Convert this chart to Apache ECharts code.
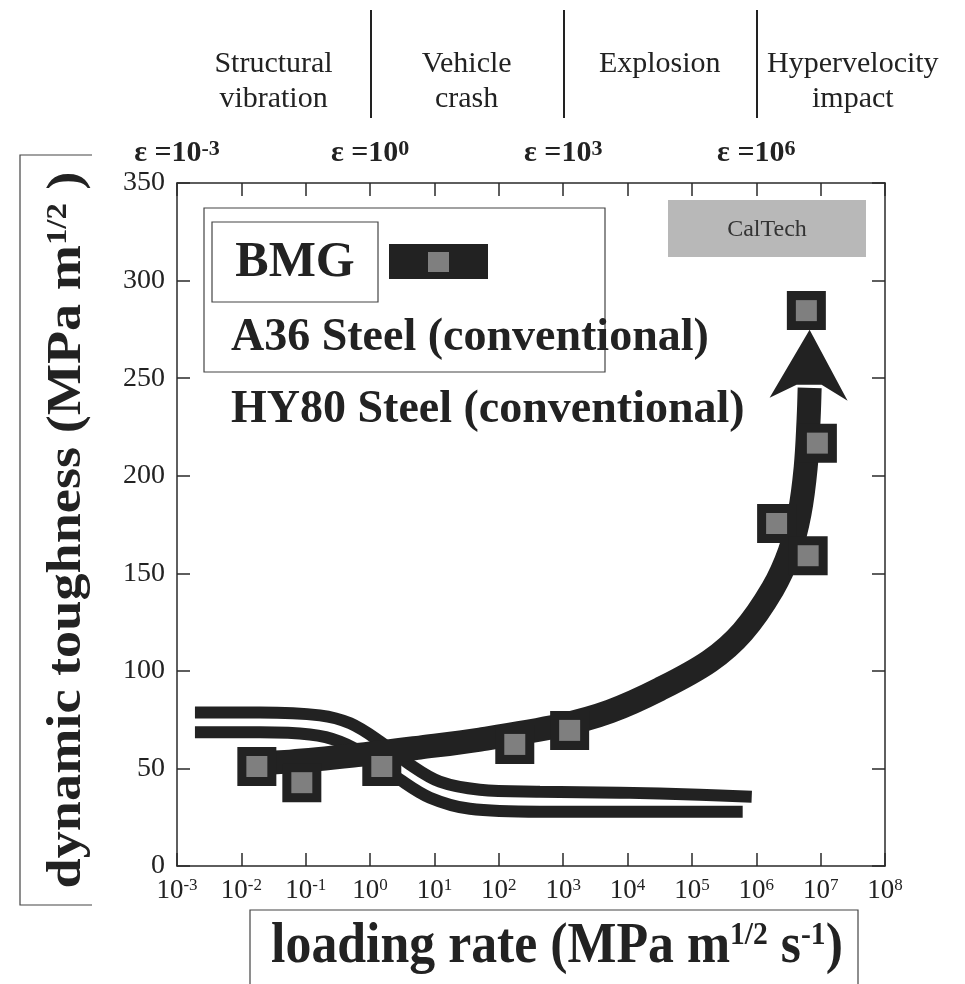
<!DOCTYPE html>
<html>
<head>
<meta charset="utf-8">
<script src="https://cdn.jsdelivr.net/npm/echarts@6/dist/echarts.min.js"></script>
<style>html,body{margin:0;background:#fff}#chart{width:965px;height:984px}</style>
</head>
<body>
<div id="chart"></div>
<script>
const serif = '"Liberation Serif", "Times New Roman", serif'
const ink = '#222'

// loading rate (MPa m^1/2 s^-1) against dynamic toughness (MPa m^1/2)
const bmgCurveX = [0.0095, 0.057, 0.70, 5.9, 51, 885, 5300, 31600, 1.89e5, 6.15e5, 1.8e6, 3.3e6, 4.7e6, 5.85e6, 6.5e6, 6.75e6]
const bmgCurveY = [52.5, 53.5, 57, 60.7, 64.8, 72, 79.2, 90.6, 105, 120, 142, 161, 180.6, 204, 229, 245]
const bmgPointsX = [0.0174, 0.087, 1.52, 177, 1260, 2.07e6, 6.4e6, 8.9e6, 6.0e6]
const bmgPointsY = [51, 42.7, 51, 62.3, 69.5, 175.5, 159, 216.7, 284.6]
const arrowTip = [6.5e6, 256.6]
const hy80X = [0.0019, 0.0195, 0.166, 0.49, 1.42, 4.15, 12.1, 50.7, 434, 7570, 1.32e5, 8.5e5]
const hy80Y = [78.7, 78.7, 77.2, 73.1, 63.8, 52, 43.2, 39.1, 38.1, 37.6, 36.5, 35.5]
const a36X = [0.0019, 0.0195, 0.116, 0.34, 1.0, 2.9, 8.5, 35.5, 434, 7570, 1.32e5, 6.15e5]
const a36Y = [68.5, 68.5, 67.4, 63.8, 55.6, 44.3, 35, 29.3, 27.8, 27.8, 27.8, 27.8]

const regimeNames = ['Structural\nvibration', 'Vehicle\ncrash', 'Explosion', 'Hypervelocity\nimpact']
const regimeBounds = [1e-3, 1, 1e3, 1e6, 1e9]
const strainExps = [-3, 0, 3, 6]

const zip = (xs, ys) => xs.map((x, i) => [x, ys[i]])
const expOf = v => Math.round(Math.log10(v))

const chart = echarts.init(document.getElementById('chart'))

const frame = () => ({ show: true, onZero: false, lineStyle: { color: '#2a2a2a', width: 1.5 } })
const tick = () => ({ show: true, inside: true, interval: 0, length: 13, lineStyle: { color: '#2a2a2a', width: 1.5 } })

const option = {
  animation: false,
  backgroundColor: '#fff',
  grid: { left: 177, right: 80, top: 183, bottom: 118 },
  xAxis: [{
    type: 'log', logBase: 10, min: 0.001, max: 1e8, interval: 1,
    axisLine: frame(), axisTick: tick(), splitLine: { show: false },
    axisLabel: {
      margin: 11,
      formatter: v => '{b|10}{s|' + expOf(v) + '}',
      rich: {
        b: { fontFamily: serif, fontSize: 27, color: ink },
        s: { fontFamily: serif, fontSize: 17, color: ink, verticalAlign: 'top' }
      }
    }
  }, {
    type: 'log', logBase: 10, min: 0.001, max: 1e8, interval: 1, position: 'top',
    axisLine: frame(), axisTick: tick(), splitLine: { show: false },
    axisLabel: {
      margin: 15,
      formatter: v => strainExps.includes(expOf(v)) ? '{e|ε =10}{s|' + expOf(v) + '}' : '',
      rich: {
        e: { fontFamily: serif, fontSize: 30, fontWeight: 'bold', color: ink },
        s: { fontFamily: serif, fontSize: 22, fontWeight: 'bold', color: ink, verticalAlign: 'top' }
      }
    }
  }],
  yAxis: [{
    type: 'value', min: 0, max: 350, interval: 50,
    axisLine: frame(), axisTick: tick(), splitLine: { show: false },
    axisLabel: { margin: 12, fontFamily: serif, fontSize: 28, color: ink }
  }, {
    type: 'value', min: 0, max: 350, interval: 50, position: 'right',
    axisLine: frame(), axisTick: tick(), splitLine: { show: false },
    axisLabel: { show: false }
  }],
  series: [
    { name: 'HY80 Steel', type: 'line', data: zip(hy80X, hy80Y), smooth: 0.35, showSymbol: false, z: 2,
      lineStyle: { color: ink, width: 12 } },
    { name: 'A36 Steel', type: 'line', data: zip(a36X, a36Y), smooth: 0.35, showSymbol: false, z: 2,
      lineStyle: { color: ink, width: 12 } },
    { name: 'BMG curve', type: 'line', data: zip(bmgCurveX, bmgCurveY), smooth: 0.35, showSymbol: false, z: 3,
      lineStyle: { color: ink, width: 24 } },
    { name: 'arrow', type: 'scatter', data: [arrowTip], z: 4,
      symbol: 'path://M40,0 L78,71 L52,55 L27,55 L0,68 Z', symbolSize: [78, 71],
      itemStyle: { color: ink, opacity: 1 } },
    { name: 'BMG', type: 'scatter', data: zip(bmgPointsX, bmgPointsY), symbol: 'rect', symbolSize: 39, z: 5,
      itemStyle: { color: ink, opacity: 1 } },
    { name: 'BMG fill', type: 'scatter', data: zip(bmgPointsX, bmgPointsY), symbol: 'rect', symbolSize: 21, z: 6,
      itemStyle: { color: '#7f7f7f', opacity: 1 } }
  ]
}

chart.setOption(option)

const boxLine = { fill: 'none', stroke: '#444', lineWidth: 1.2 }
const graphics = [
  { type: 'rect', shape: { x: 204, y: 208, width: 401, height: 164 }, style: boxLine },
  { type: 'rect', shape: { x: 212, y: 222, width: 166, height: 80 }, style: boxLine },
  { type: 'text', x: 295, y: 263, style: { text: 'BMG', font: 'bold 50px ' + serif, fill: ink, align: 'center', verticalAlign: 'middle' } },
  { type: 'rect', shape: { x: 389, y: 244, width: 99, height: 35 }, style: { fill: ink } },
  { type: 'rect', shape: { x: 428, y: 252, width: 21, height: 20 }, style: { fill: '#7f7f7f' } },
  { type: 'text', x: 231, y: 338, style: { text: 'A36 Steel (conventional)', font: 'bold 46px ' + serif, fill: ink, verticalAlign: 'middle' } },
  { type: 'text', x: 231, y: 410, style: { text: 'HY80 Steel (conventional)', font: 'bold 46px ' + serif, fill: ink, verticalAlign: 'middle' } },
  { type: 'rect', shape: { x: 668, y: 200, width: 198, height: 57 }, style: { fill: '#b8b8b8' } },
  { type: 'text', x: 767, y: 230, style: { text: 'CalTech', font: '24px ' + serif, fill: '#333', align: 'center', verticalAlign: 'middle' } },
  { type: 'polyline', shape: { points: [[92, 155], [20, 155], [20, 905], [92, 905]] }, style: boxLine },
  { type: 'text', x: 68, y: 530, rotation: Math.PI / 2, scaleX: 1.13,
    style: {
      text: '{t|dynamic toughness (MPa m}{s|1/2}{t| )}', fill: ink, align: 'center', verticalAlign: 'middle',
      rich: {
        t: { fontFamily: serif, fontWeight: 'bold', fontSize: 48, fill: ink },
        s: { fontFamily: serif, fontWeight: 'bold', fontSize: 29, fill: ink, verticalAlign: 'top' }
      }
    } },
  { type: 'polyline', shape: { points: [[250, 984], [250, 910], [858, 910], [858, 984]] }, style: boxLine },
  { type: 'text', x: 557, y: 948, scaleX: 0.925,
    style: {
      text: '{t|loading rate (MPa m}{s|1/2}{t| s}{s|-1}{t|)}', fill: ink, align: 'center', verticalAlign: 'middle',
      rich: {
        t: { fontFamily: serif, fontWeight: 'bold', fontSize: 56, fill: ink },
        s: { fontFamily: serif, fontWeight: 'bold', fontSize: 32, fill: ink, verticalAlign: 'top' }
      }
    } }
]

// regime dividers and names along the top, placed on the loading-rate scale
const px = v => chart.convertToPixel({ xAxisIndex: 0 }, v)
regimeBounds.slice(1, 4).forEach(b => {
  const x = Math.round(px(b)) + 1
  graphics.push({ type: 'line', shape: { x1: x, y1: 10, x2: x, y2: 118 }, style: { stroke: ink, lineWidth: 2 } })
})
regimeNames.forEach((name, i) => {
  const mid = Math.sqrt(regimeBounds[i] * regimeBounds[i + 1])
  graphics.push({ type: 'text', x: px(mid), y: 47,
    style: { text: name, font: '30px ' + serif, lineHeight: 35, fill: ink, align: 'center', verticalAlign: 'top' } })
})

chart.setOption({ graphic: graphics })
</script>
</body>
</html>
